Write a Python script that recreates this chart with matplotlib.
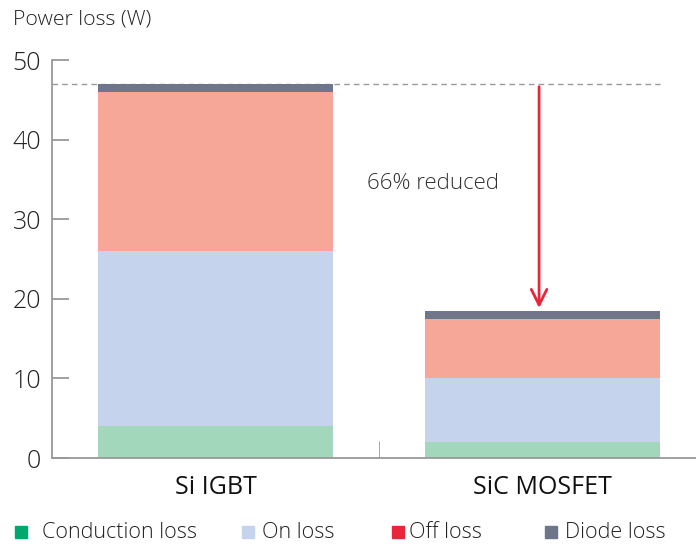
import numpy as np
import matplotlib.pyplot as plt
from matplotlib.patches import Rectangle

plt.rcParams['font.family'] = ['Open Sans', 'DejaVu Sans']

categories = ["Si IGBT", "SiC MOSFET"]
conduction = [4, 2]
on_loss = [22, 8]
off_loss = [20, 7.5]
diode = [1, 1]

series_names = ["Conduction loss", "On loss", "Off loss", "Diode loss"]
bar_colors = ["#a3d7bb", "#c5d3ec", "#f7a797", "#6e7689"]
legend_colors = ["#00a870", "#c5d3ec", "#e8253a", "#6e7689"]

fig = plt.figure(figsize=(6.96, 5.46), dpi=100)
ax = fig.add_axes([0.0747, 0.161, 0.9253, 0.729])

x = np.arange(len(categories))
bottom = np.zeros(len(categories))
for vals, c in zip([conduction, on_loss, off_loss, diode], bar_colors):
    ax.bar(x, vals, width=0.72, bottom=bottom, color=c, edgecolor="none", zorder=2)
    bottom += np.array(vals)

total = bottom
ax.hlines(total[0], -0.5, 1.36, color="#999999", ls=(0, (4, 3)), lw=1, zorder=1)
ax.annotate("", xy=(x[1] - 0.01, total[1]), xytext=(x[1] - 0.01, total[0]),
            arrowprops=dict(arrowstyle="->", color="#e8253a", lw=2, mutation_scale=28))
ax.text(0.667, 34.5, "66% reduced", ha="center", va="center", fontsize=16,
        color="#333333", fontweight="light")

ax.set_xlim(-0.5, 1.47)
ax.set_ylim(0, 50)
ax.set_yticks([0, 10, 20, 30, 40, 50])
ax.set_xticks(x)
ax.set_xticklabels(categories, fontsize=18, color="#111111")
ax.set_xticks([0.5], minor=True)
ax.tick_params(axis="x", which="major", length=0, pad=12)
ax.tick_params(axis="x", which="minor", direction="in", length=12, color="#999999")
ax.tick_params(axis="y", direction="in", length=12, width=1.3, color="#999999",
               labelsize=18, labelcolor="#222222", pad=8)
for lab in ax.get_yticklabels():
    lab.set_fontweight("light")
for s in ["top", "right"]:
    ax.spines[s].set_visible(False)
for s in ["left", "bottom"]:
    ax.spines[s].set_color("#999999")
    ax.spines[s].set_linewidth(1.3)

fig.text(0.019, 0.965, "Power loss (W)", fontsize=15.3, color="#222222", va="center",
         fontweight="light")

# legend drawn by hand to match spacing
sq_x = [15, 242, 392, 545]
txt_x = [42, 262, 409, 565]
W, H = 696, 546
for sx, tx, c, name in zip(sq_x, txt_x, legend_colors, series_names):
    fig.add_artist(Rectangle((sx / W, (H - 538) / H), 12 / W, 12 / H, color=c,
                             transform=fig.transFigure))
    fig.text(tx / W, (H - 533) / H, name, fontsize=15.5, color="#222222", va="center",
             fontweight="light")

fig.savefig("out.png", dpi=100)
